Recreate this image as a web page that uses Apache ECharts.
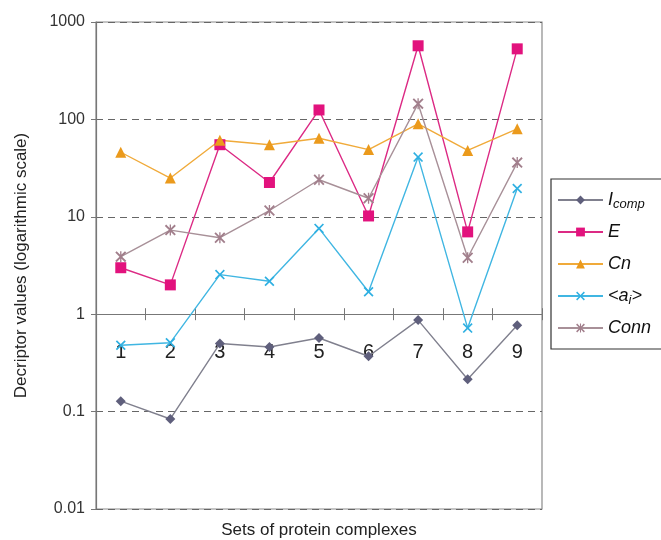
<!DOCTYPE html>
<html>
<head>
<meta charset="utf-8">
<script src="https://cdn.jsdelivr.net/npm/echarts@6/dist/echarts.min.js"></script>
<style>
html,body{margin:0;padding:0;background:#fff;}
#chart{width:661px;height:540px;}
</style>
</head>
<body>
<div id="chart"></div>
<script>
var categories = ['1','2','3','4','5','6','7','8','9'];
var yTickLabels = ['0.01','0.1','1','10','100','1000'];
var seriesNames = ['I_comp','E','Cn','<a_i>','Conn'];
var iComp = [0.128, 0.084, 0.50, 0.46, 0.57, 0.37, 0.87, 0.215, 0.77];
var eVals = [3.0, 2.0, 55, 22.5, 125, 10.2, 570, 7.0, 530];
var cnVals = [46, 25, 61, 55, 64, 49, 90, 48, 80];
var aiVals = [0.48, 0.51, 2.55, 2.18, 7.6, 1.7, 41, 0.72, 19.5];
var connVals = [3.9, 7.3, 6.1, 11.6, 24, 15.5, 145, 3.8, 36];

var FONT = '"Liberation Sans", Arial, Helvetica, sans-serif';
var xSym = 'path://M0,1.2 L1.2,0 L5,3.8 L8.8,0 L10,1.2 L6.2,5 L10,8.8 L8.8,10 L5,6.2 L1.2,10 L0,8.8 L3.8,5 Z';
var astSym = 'path://M0,1.2 L1.2,0 L5,3.8 L8.8,0 L10,1.2 L6.2,5 L10,8.8 L8.8,10 L5,6.2 L1.2,10 L0,8.8 L3.8,5 Z M4.4,0 L5.6,0 L5.6,10 L4.4,10 Z';

var gridLeft = 96, gridTop = 22, gridBottomPx = 509, gridRightPx = 542;
var gridH = gridBottomPx - gridTop;
var decades = 5;
var axisOffset = -gridH * 2 / decades;

var chart = echarts.init(document.getElementById('chart'), null, {renderer: 'canvas'});

function mk(name, data, color, lineColor, symbol, size) {
  return {
    name: name, type: 'line', data: data, xAxisIndex: 0, yAxisIndex: 0,
    symbol: symbol, symbolSize: size,
    lineStyle: {color: lineColor, width: 1.4},
    itemStyle: {color: color},
    emphasis: {disabled: true},
    animation: false
  };
}

var legendNames = {
  'I_comp': '{it|I}{sub|comp}',
  'E': '{it|E}',
  'Cn': '{it|Cn}',
  '<a_i>': '{it|<a}{sub|i}{it|>}',
  'Conn': '{it|Conn}'
};

chart.setOption({
  backgroundColor: '#ffffff',
  animation: false,
  grid: {
    left: gridLeft, top: gridTop, right: 661 - gridRightPx, bottom: 540 - gridBottomPx,
    containLabel: false, outerBoundsMode: 'none',
    show: true, borderColor: '#8a8a8a', borderWidth: 1.2, backgroundColor: 'transparent'
  },
  legend: {
    orient: 'vertical', left: 551, top: 179,
    data: seriesNames,
    borderColor: '#333', borderWidth: 1.2,
    padding: [10, 40, 10, 6],
    itemWidth: 45, itemHeight: 11, itemGap: 10,
    formatter: function (n) { return legendNames[n]; },
    textStyle: {
      fontFamily: FONT, fontSize: 18, color: '#111', lineHeight: 22,
      rich: {
        it: {fontFamily: FONT, fontSize: 18, fontStyle: 'italic', color: '#111'},
        sub: {fontFamily: FONT, fontSize: 13, fontStyle: 'italic', color: '#111', verticalAlign: 'bottom', padding: [9, 0, 0, 0]}
      }
    }
  },
  xAxis: [{
    type: 'category', data: categories, position: 'bottom', offset: axisOffset,
    boundaryGap: true,
    axisLine: {show: true, onZero: false, lineStyle: {color: '#777', width: 1.2}},
    axisTick: {show: true, inside: false, length: 6, interval: 0, lineStyle: {color: '#777', width: 1}},
    axisLabel: {show: true, interval: 0, margin: 28, fontFamily: FONT, fontSize: 20, color: '#222'},
    splitLine: {show: false}
  }, {
    type: 'category', data: categories, position: 'bottom', offset: axisOffset,
    boundaryGap: true,
    axisLine: {show: false, onZero: false},
    axisTick: {show: true, inside: true, length: 6, interval: 0, lineStyle: {color: '#777', width: 1}},
    axisLabel: {show: false},
    splitLine: {show: false}
  }],
  yAxis: {
    type: 'log', logBase: 10, min: 0.01, max: 1000,
    name: 'Decriptor values (logarithmic scale)',
    nameLocation: 'middle', nameGap: 66,
    nameTextStyle: {fontFamily: FONT, fontSize: 17, color: '#222'},
    axisLine: {show: true, lineStyle: {color: '#777', width: 1.2}},
    axisTick: {show: true, length: 5, lineStyle: {color: '#777'}},
    minorTick: {show: false},
    axisLabel: {
      fontFamily: FONT, fontSize: 16, color: '#333', margin: 11,
      formatter: function (v) {
        var e = Math.round(Math.log10(v));
        return yTickLabels[e + 2];
      }
    },
    splitLine: {show: true, lineStyle: {color: '#666', type: [7, 5], width: 1}}
  },
  graphic: [{
    type: 'text', x: (gridLeft + gridRightPx) / 2, y: 530,
    style: {text: 'Sets of protein complexes', textAlign: 'center', textVerticalAlign: 'middle',
      font: '17px ' + FONT, fill: '#222'}
  }],
  series: [
    mk('I_comp', iComp, '#5f5f7c', '#80808e', 'diamond', 10),
    mk('E', eVals, '#e2127d', '#dc2a84', 'rect', 11),
    mk('Cn', cnVals, '#eb9a1c', '#f0aa3a', 'triangle', 11),
    mk('<a_i>', aiVals, '#2fb0e2', '#40b6e2', xSym, 10),
    mk('Conn', connVals, '#a27f8c', '#a89098', astSym, 11)
  ]
});
</script>
</body>
</html>
